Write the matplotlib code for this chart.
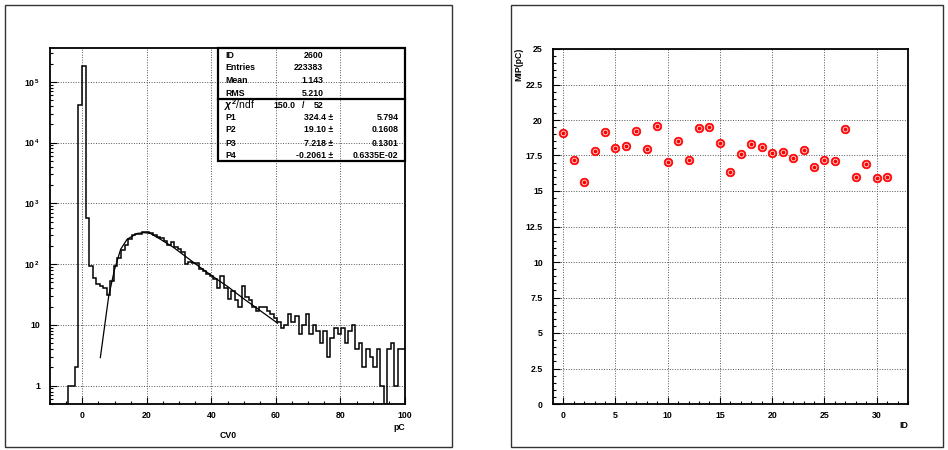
import numpy as np
import matplotlib
matplotlib.use('Agg')
import matplotlib.pyplot as plt
from matplotlib.patches import Rectangle
from matplotlib.ticker import MultipleLocator, FixedLocator, NullFormatter

plt.rcParams['font.family'] = ['Liberation Sans', 'DejaVu Sans']
plt.rcParams['font.weight'] = 'bold'
plt.rcParams['mathtext.fontset'] = 'custom'
plt.rcParams['mathtext.bf'] = 'Liberation Sans:bold'
plt.rcParams['mathtext.rm'] = 'Liberation Sans'
plt.rcParams['mathtext.it'] = 'Liberation Sans:italic'

W, H = 948, 450

# --- CV0 histogram: 100 bins from -10 to 100 pC ---
HIST_RANGE = (-10.0, 100.0)
cv0_counts = [
    0, 0, 0, 0, 0, 1, 1, 2, 41000, 180000,
    565, 93, 60, 48, 43, 40, 31, 53, 95, 128,
    170, 205, 255, 305, 308, 312, 342, 338, 320, 300,
    285, 270, 240, 208, 230, 192, 178, 158, 99, 110,
    104, 103, 82, 77, 70, 63, 57, 41, 63, 41,
    27, 36, 26, 20, 43, 29, 26, 20, 17, 20,
    20, 17, 15, 13, 11, 9, 10, 15, 11, 14,
    7, 10, 15, 7, 10, 8, 5, 8, 3, 6,
    9, 7, 9, 5, 8, 10, 4, 5, 2, 4,
    3, 2, 4, 1, 0, 4, 5, 1, 4, 4,
]

# fit curve
fit_x = [5.6, 8.2, 10.0, 11.9, 13.9, 17.0, 19.1, 21.0, 24.2, 28.3, 32.5,
         36.6, 41.8, 45.0, 50.0, 55.0, 60.5]
fit_y = [2.9, 30, 82, 176, 257, 320, 330, 322, 257, 188, 128,
         88, 56, 43, 27, 17.4, 10.7]

stat_names = ['ID', 'Entries', 'Mean', 'RMS']
stat_values = ['2600', '223383', '1.143', '5.210']
chi2_value, ndf_value = '150.0', '52'
par_names = ['P1', 'P2', 'P3', 'P4']
par_values = ['324.4', '19.10', '7.218', '-0.2061']
par_errors = ['5.794', '0.1608', '0.1301', '0.6335E-02']

log_ticks = [1, 10, 100, 1000, 10000, 100000]
log_labels = ['1', '10', r'$\mathbf{10}^{\mathbf{\,2}}$', r'$\mathbf{10}^{\mathbf{\,3}}$',
              r'$\mathbf{10}^{\mathbf{\,4}}$', r'$\mathbf{10}^{\mathbf{\,5}}$']

# --- MIP per channel ---
mip_id = list(range(32))
mip_pc = [19.11, 17.19, 15.60, 17.82, 19.18, 18.01, 18.18, 19.21, 17.96, 19.61,
          17.07, 18.50, 17.17, 19.47, 19.54, 18.36, 16.35, 17.64, 18.32, 18.13,
          17.71, 17.73, 17.31, 17.89, 16.67, 17.21, 17.10, 19.37, 15.99, 16.91,
          15.95, 16.02]

FS = 6.3
GRID = dict(color='#555555', linestyle=(0, (1, 1.6)), linewidth=0.7)


def px_rect(x0, y0, x1, y1):
    """pixel box (top-left origin) -> figure-fraction [l, b, w, h]"""
    return [x0 / W, 1 - y1 / H, (x1 - x0) / W, (y1 - y0) / H]


def fxy(x, y):
    return x / W, 1 - y / H


def style_axes(ax):
    for s in ax.spines.values():
        s.set_linewidth(1.3)
    ax.tick_params(which='both', direction='in', top=False, right=False,
                   labelsize=FS, pad=5)
    ax.tick_params(which='major', length=5, width=0.8)
    ax.tick_params(which='minor', length=2.5, width=0.8)
    ax.set_axisbelow(True)


fig = plt.figure(figsize=(W / 100, H / 100), dpi=100)

# pad frames
for box in [(5, 5, 452, 447), (511, 5, 943, 447)]:
    l, b, w, h = px_rect(*box)
    fig.patches.append(Rectangle((l, b), w, h, transform=fig.transFigure,
                                 fill=False, edgecolor='#333333', linewidth=1.0))

# ---------------- left: histogram ----------------
ax1 = fig.add_axes(px_rect(50, 48, 405, 404))
edges = np.linspace(HIST_RANGE[0], HIST_RANGE[1], len(cv0_counts) + 1)
ax1.stairs(np.clip(np.array(cv0_counts, dtype=float), 0.05, None), edges,
           baseline=None, color='black', linewidth=1.1)
ax1.plot(fit_x, fit_y, color='black', linewidth=0.9)
ax1.set_yscale('log')
ax1.set_xlim(*HIST_RANGE)
ax1.set_ylim(0.5, 3.6e5)
ax1.xaxis.set_major_locator(FixedLocator([0, 20, 40, 60, 80, 100]))
ax1.xaxis.set_minor_locator(MultipleLocator(5))
ax1.yaxis.set_major_locator(FixedLocator(log_ticks))
ax1.set_yticklabels(log_labels)
ax1.yaxis.set_minor_locator(FixedLocator(
    [m * 10 ** d for d in range(-1, 6) for m in range(2, 10)]))
ax1.yaxis.set_minor_formatter(NullFormatter())
ax1.grid(True, which='major', **GRID)
style_axes(ax1)
ax1.tick_params(axis='y', pad=7)

fig.text(*fxy(405, 427), 'pC', ha='right', va='center', fontsize=FS, fontweight='bold')
fig.text(*fxy(228, 435), 'CV0', ha='center', va='center', fontsize=FS, fontweight='bold')

# stats box (transparent, grid shows through)
l, b, w, h = px_rect(218, 48, 405, 161)
fig.patches.append(Rectangle((l, b), w, h, transform=fig.transFigure,
                             fill=False, edgecolor='black', linewidth=1.6))
fig.lines.append(plt.Line2D([218 / W, 405 / W], [1 - 98.7 / H] * 2,
                            transform=fig.transFigure, color='black', linewidth=1.6))
row_y = [55, 68, 80.3, 93]
for name, val, y in zip(stat_names, stat_values, row_y):
    fig.text(*fxy(225, y), name, ha='left', va='center', fontsize=FS, fontweight='bold')
    fig.text(*fxy(323.5, y), val, ha='right', va='center', fontsize=FS, fontweight='bold')
fig.text(*fxy(224, 105), r'$\chi^2$/ndf', ha='left', va='center', fontsize=FS + 1.2,
         fontweight='normal')
fig.text(*fxy(273, 105), chi2_value, ha='left', va='center', fontsize=FS, fontweight='bold')
fig.text(*fxy(303, 105), '/', ha='center', va='center', fontsize=FS, fontweight='bold')
fig.text(*fxy(323.5, 105), ndf_value, ha='right', va='center', fontsize=FS, fontweight='bold')
par_y = [118, 130, 143, 155]
for name, val, err, y in zip(par_names, par_values, par_errors, par_y):
    fig.text(*fxy(225, y), name, ha='left', va='center', fontsize=FS, fontweight='bold')
    fig.text(*fxy(333, y), val + ' \u00b1', ha='right', va='center',
             fontsize=FS, fontweight='bold')
    fig.text(*fxy(398.5, y), err, ha='right', va='center', fontsize=FS, fontweight='bold')

# ---------------- right: MIP vs ID ----------------
ax2 = fig.add_axes(px_rect(552.7, 49, 908, 404))
ax2.plot(mip_id, mip_pc, linestyle='none', marker='o', markersize=6.2,
         markerfacecolor='red', markeredgecolor='red', markeredgewidth=0.5, zorder=3)
ax2.plot(mip_id, mip_pc, linestyle='none', marker='o', markersize=3.4,
         markerfacecolor='none', markeredgecolor='#ffd0d0', markeredgewidth=0.7, zorder=4)
ax2.set_xlim(-1, 33)
ax2.set_ylim(0, 25)
ax2.xaxis.set_major_locator(FixedLocator([0, 5, 10, 15, 20, 25, 30]))
ax2.xaxis.set_minor_locator(MultipleLocator(1))
ax2.yaxis.set_major_locator(MultipleLocator(2.5))
ax2.yaxis.set_minor_locator(MultipleLocator(0.5))
ax2.yaxis.set_major_formatter(plt.FuncFormatter(lambda v, p: f'{v:g}'))
ax2.grid(True, which='major', **GRID)
style_axes(ax2)
ax2.tick_params(axis='y', pad=7)

fig.text(*fxy(908, 426), 'ID', ha='right', va='center', fontsize=FS, fontweight='bold')
fig.text(*fxy(519, 48), 'MIP(pC)', ha='center', va='top', rotation=90,
         fontsize=FS, fontweight='bold')

fig.savefig('out.png', dpi=100)
